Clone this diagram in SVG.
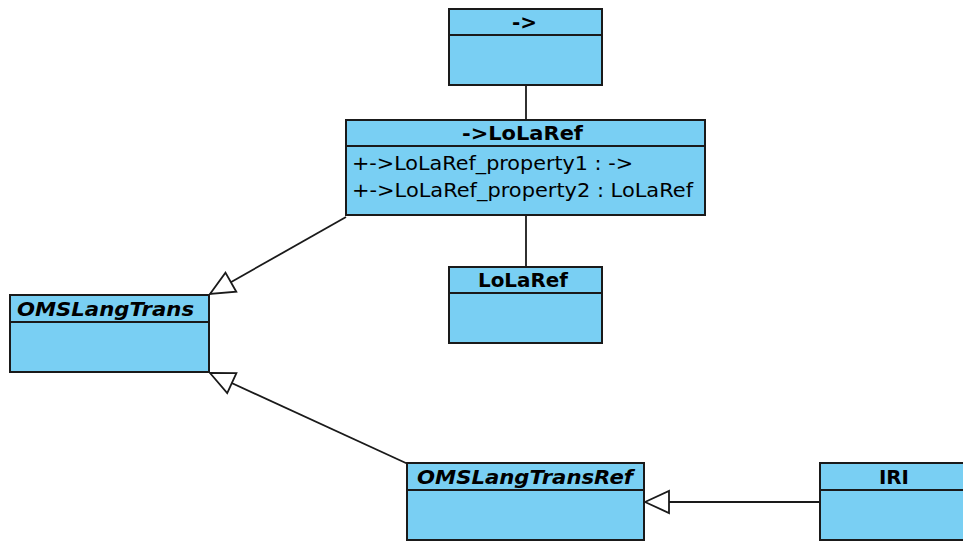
<svg xmlns="http://www.w3.org/2000/svg" width="963" height="541" viewBox="0 0 963 541">
<style>
.box{fill:#79CFF3;stroke:#1a1a1a;stroke-width:2}
.div{stroke:#1a1a1a;stroke-width:2}
.t{font-family:"DejaVu Sans",sans-serif;font-size:19px;font-weight:bold;fill:#000}
.ti{font-family:"DejaVu Sans",sans-serif;font-size:19px;font-weight:bold;font-style:italic;fill:#000}
.a{font-family:"DejaVu Sans",sans-serif;font-size:19px;fill:#000}
.c{stroke:#1a1a1a;stroke-width:1.8;fill:none}
</style>
<defs>
<marker id="gen" markerUnits="userSpaceOnUse" markerWidth="30" markerHeight="30" viewBox="-2 -14 30 28" refX="0" refY="0" orient="auto">
<path d="M0,0 L24,-11 L24,11 Z" fill="#fff" stroke="#1a1a1a" stroke-width="1.8"/>
</marker>
</defs>
<g id="connectors">
<line class="c" x1="526" y1="85" x2="526" y2="120"/>
<line class="c" x1="526" y1="215" x2="526" y2="267"/>
<line class="c" x1="210" y1="294" x2="346" y2="217" marker-start="url(#gen)"/>
<line class="c" x1="210" y1="373" x2="408" y2="464" marker-start="url(#gen)"/>
<line class="c" x1="645" y1="502" x2="820" y2="502" marker-start="url(#gen)"/>
</g>
<g id="arrow">
<rect class="box" x="449" y="9" width="153" height="76"/>
<line class="div" x1="449" y1="35" x2="602" y2="35"/>
<text class="t" x="512" y="28.5" textLength="25" lengthAdjust="spacingAndGlyphs">-&gt;</text>
</g>
<g id="arrowLoLaRef">
<rect class="box" x="346" y="120" width="359" height="95"/>
<line class="div" x1="346" y1="146" x2="705" y2="146"/>
<text class="t" x="462" y="139.5" textLength="121" lengthAdjust="spacingAndGlyphs">-&gt;LoLaRef</text>
<text class="a" x="352" y="170" textLength="281" lengthAdjust="spacingAndGlyphs">+-&gt;LoLaRef_property1 : -&gt;</text>
<text class="a" x="352" y="197" textLength="341" lengthAdjust="spacingAndGlyphs">+-&gt;LoLaRef_property2 : LoLaRef</text>
</g>
<g id="LoLaRef">
<rect class="box" x="449" y="267" width="153" height="76"/>
<line class="div" x1="449" y1="293" x2="602" y2="293"/>
<text class="t" x="478" y="286.5" textLength="90" lengthAdjust="spacingAndGlyphs">LoLaRef</text>
</g>
<g id="OMSLangTrans">
<rect class="box" x="10" y="295" width="199" height="77"/>
<line class="div" x1="10" y1="322" x2="209" y2="322"/>
<text class="ti" x="17" y="315.5" textLength="177" lengthAdjust="spacingAndGlyphs">OMSLangTrans</text>
</g>
<g id="OMSLangTransRef">
<rect class="box" x="407" y="463" width="237" height="77"/>
<line class="div" x1="407" y1="490" x2="644" y2="490"/>
<text class="ti" x="417" y="483.5" textLength="216" lengthAdjust="spacingAndGlyphs">OMSLangTransRef</text>
</g>
<g id="IRI">
<rect class="box" x="820" y="463" width="150" height="77"/>
<line class="div" x1="820" y1="490" x2="970" y2="490"/>
<text class="t" x="879" y="483.5" textLength="30" lengthAdjust="spacingAndGlyphs">IRI</text>
</g>
</svg>
